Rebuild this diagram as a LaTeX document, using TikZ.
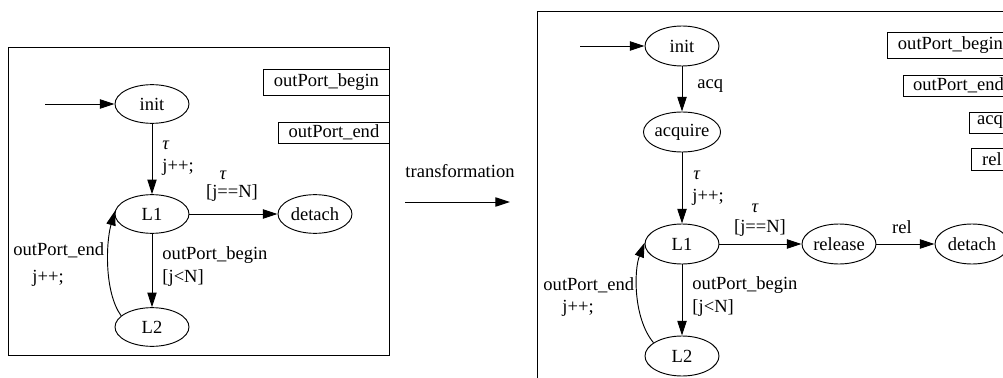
\documentclass[tikz,border=0pt]{standalone}
\usepackage{fontspec}
\setmainfont{Liberation Serif}
\usetikzlibrary{arrows.meta,shapes.geometric}
\begin{document}
\begin{tikzpicture}[x=0.75pt,y=-0.75pt,
  font=\fontsize{13.9}{16}\selectfont,
  line width=0.7pt,
  state/.style={ellipse,draw,minimum width=55.5pt,minimum height=29pt,inner sep=0pt},
  rstate/.style={state,minimum height=30pt},
  evbox/.style={draw,rectangle,inner sep=0pt,anchor=west,minimum height=15.75pt},
  lbl/.style={inner sep=0pt,anchor=west},
  clbl/.style={inner sep=0pt},
  trans/.style={-{Triangle[length=11pt,width=7pt]}}]
\useasboundingbox (0,0) rectangle (1003,378);
\clip (0,0) rectangle (1003,378);

% ---------- original automaton ----------
\draw (8,47) rectangle (389,355);
\node[evbox,minimum width=94.5pt,minimum height=19.5pt] (lbeg) at (263,82) {outPort\_begin};
\node[evbox,minimum width=83.25pt] (lend) at (278,132.5) {outPort\_end};

\node[state] (linit) at (152,104) {init};
\node[state] (lL1)   at (152,214) {L1};
\node[state] (ldet)  at (315,214) {detach};
\node[state] (lL2)   at (152,327) {L2};

\coordinate (lstart) at (45,104);
\draw[trans] (lstart) -- (linit);
\draw[trans] (linit) -- (lL1);
\draw[trans] (lL1) -- (ldet);
\draw[trans] (lL1) -- (lL2);
\draw[trans] (lL2.160) .. controls (104,292) and (106,242) .. (lL1.175);

\node[lbl]  (lt1)  at (162,145) {\itshape τ};
\node[lbl]  (lj1)  at (162,167) {j++;};
\node[clbl] (lt2)  at (223,175) {\itshape τ};
\node[clbl] (lg1)  at (232,193) {[j==N]};
\node[lbl]  (lob)  at (162,255) {outPort\_begin};
\node[lbl]  (lg2)  at (162,278) {[j<N]};
\node[lbl]  (loe)  at (13,250)  {outPort\_end};
\node[lbl]  (lj2)  at (32,278)  {j++;};

% ---------- transformation ----------
\node[clbl] (tlab) at (460,171) {transformation};
\coordinate (ta) at (405,202);
\coordinate (tb) at (510,202);
\draw[trans] (ta) -- (tb);

% ---------- transformed automaton ----------
\draw (537,11) rectangle (1013,420);
\node[evbox,minimum width=94.5pt,minimum height=19.5pt] (rbeg) at (887,45) {outPort\_begin};
\node[evbox,minimum width=82.5pt] (rend) at (903,85.5) {outPort\_end};
\node[evbox,minimum width=30.75pt] (racq) at (969,122.5) {acq};
\node[evbox,minimum width=30.75pt,minimum height=16.5pt] (rrel) at (971,159) {rel};

\node[rstate] (rinit) at (682,46)  {init};
\node[rstate] (racqs) at (682,132) {acquire};
\node[rstate] (rL1)   at (682,244) {L1};
\node[rstate] (rrels) at (839,244) {release};
\node[rstate] (rdet)  at (972,244) {detach};
\node[rstate] (rL2)   at (682,356) {L2};

\coordinate (rstart) at (580,46);
\draw[trans] (rstart) -- (rinit);
\draw[trans] (rinit) -- (racqs);
\draw[trans] (racqs) -- (rL1);
\draw[trans] (rL1) -- (rrels);
\draw[trans] (rrels) -- (rdet);
\draw[trans] (rL1) -- (rL2);
\draw[trans] (rL2.155) .. controls (633,318) and (634,270) .. (rL1.178);

\node[lbl]  (ra1) at (697,86)  {acq};
\node[lbl]  (rt1) at (693,175) {\itshape τ};
\node[lbl]  (rj1) at (692,197) {j++;};
\node[clbl] (rt2) at (755,208) {\itshape τ};
\node[clbl] (rg1) at (760,228) {[j==N]};
\node[clbl] (rr1) at (902,227) {rel};
\node[lbl]  (rob) at (692,285) {outPort\_begin};
\node[lbl]  (rg2) at (692,308) {[j<N]};
\node[lbl]  (roe) at (543,285) {outPort\_end};
\node[lbl]  (rj2) at (562,308) {j++;};
\end{tikzpicture}
\end{document}
